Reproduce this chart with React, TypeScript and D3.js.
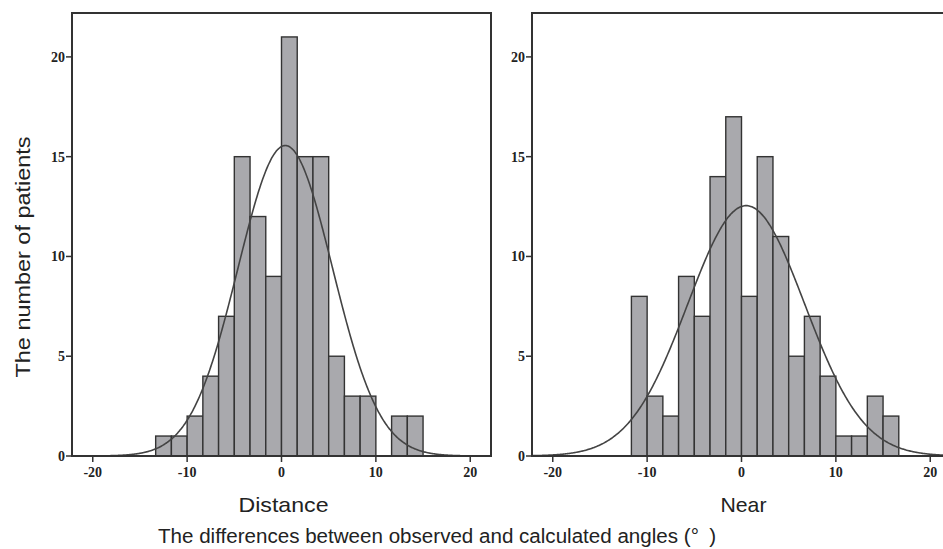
import React from 'react';
import * as d3 from 'd3';

// bin counts (bin width 5/3 degrees)
const binWidth = 5 / 3;
const distanceStart = -40 / 3;
const distanceCounts = [1, 1, 2, 4, 7, 15, 12, 9, 21, 15, 15, 5, 3, 3, 0, 2, 2];
const nearStart = -35 / 3;
const nearCounts = [8, 3, 2, 9, 7, 14, 17, 8, 15, 11, 5, 7, 4, 1, 1, 3, 2];

// fitted normal curves (mean, sd)
const distanceFit = { mean: 0.4, sd: 5.0 };
const nearFit = { mean: 0.5, sd: 6.2 };

const xTicks = [-20, -10, 0, 10, 20];
const yTicks = [0, 5, 10, 15, 20];
const panelLabels = ['Distance', 'Near'];
const yTitle = 'The number of patients';
const xTitle = 'The differences between observed and calculated angles (°\u2002)';

const W = 943, H = 549;
const top = 13, bottom = 456;
const panelW = 419;
const panelLeft = [72, 532];
const xDomain: [number, number] = [-22.2, 22.2];
const yMax = 22.2;

const ink = '#333';
const barFill = '#a9a9ad';
const tickFont = '"Liberation Serif", "DejaVu Serif", serif';
const labelFont = '"Liberation Sans", Arial, sans-serif';

function Panel({ left, start, counts, fit, label, labelLen, clipId }) {
  const x = d3.scaleLinear().domain(xDomain).range([left, left + panelW]);
  const y = d3.scaleLinear().domain([0, yMax]).range([bottom, top]);
  const n = d3.sum(counts);
  const pdf = (v: number) =>
    (n * binWidth) / (fit.sd * Math.sqrt(2 * Math.PI)) *
    Math.exp(-((v - fit.mean) ** 2) / (2 * fit.sd * fit.sd));
  const curve = d3.line<number>()
    .x(v => x(v))
    .y(v => y(pdf(v)))
    .curve(d3.curveBasis);
  const pts = d3.range(xDomain[0], xDomain[1] + 0.05, 0.1);

  return (
    <g>
      <defs>
        <clipPath id={clipId}>
          <rect x={left} y={top} width={panelW} height={bottom - top} />
        </clipPath>
      </defs>
      {counts.map((c, i) => {
        if (c === 0) return null;
        const x0 = start + i * binWidth;
        return (
          <rect key={i}
            x={x(x0)} y={y(c)}
            width={x(x0 + binWidth) - x(x0)} height={y(0) - y(c)}
            fill={barFill} stroke={ink} strokeWidth={1.4} />
        );
      })}
      <path d={curve(pts) || ''} fill="none" stroke="#444" strokeWidth={1.6} clipPath={`url(#${clipId})`} />
      <rect x={left} y={top} width={panelW} height={bottom - top} fill="none" stroke={ink} strokeWidth={2} />
      {yTicks.map(t => (
        <g key={'y' + t}>
          <line x1={left - 6} x2={left} y1={y(t)} y2={y(t)} stroke={ink} strokeWidth={1.5} />
          <text x={left - 7} y={y(t)} dy="0.35em" textAnchor="end"
            fontFamily={tickFont} fontWeight="bold" fontSize={14} fill="#222">{t}</text>
        </g>
      ))}
      {xTicks.map(t => (
        <g key={'x' + t}>
          <line x1={x(t)} x2={x(t)} y1={bottom} y2={bottom + 6} stroke={ink} strokeWidth={1.5} />
          <text x={x(t)} y={bottom + 21} textAnchor="middle"
            fontFamily={tickFont} fontWeight="bold" fontSize={14} fill="#222">{t}</text>
        </g>
      ))}
      <text x={x(0) + 2} y={512} textAnchor="middle" fontFamily={labelFont} fontSize={21}
        textLength={labelLen} lengthAdjust="spacingAndGlyphs" fill="#222">{label}</text>
    </g>
  );
}

export default function App() {
  return (
    <svg width={W} height={H} style={{ position: 'absolute', left: 0, top: 0, background: '#fff' }}>
      <rect width={W} height={H} fill="#fff" />
      <Panel left={panelLeft[0]} start={distanceStart} counts={distanceCounts} fit={distanceFit}
        label={panelLabels[0]} labelLen={90} clipId="clipL" />
      <Panel left={panelLeft[1]} start={nearStart} counts={nearCounts} fit={nearFit}
        label={panelLabels[1]} labelLen={46} clipId="clipR" />
      <text transform="translate(30,257) rotate(-90)" textAnchor="middle"
        fontFamily={labelFont} fontSize={21} textLength={241} lengthAdjust="spacingAndGlyphs"
        fill="#222">{yTitle}</text>
      <text x={437} y={543} textAnchor="middle" fontFamily={labelFont} fontSize={20}
        textLength={558} lengthAdjust="spacingAndGlyphs" fill="#222">{xTitle}</text>
    </svg>
  );
}
